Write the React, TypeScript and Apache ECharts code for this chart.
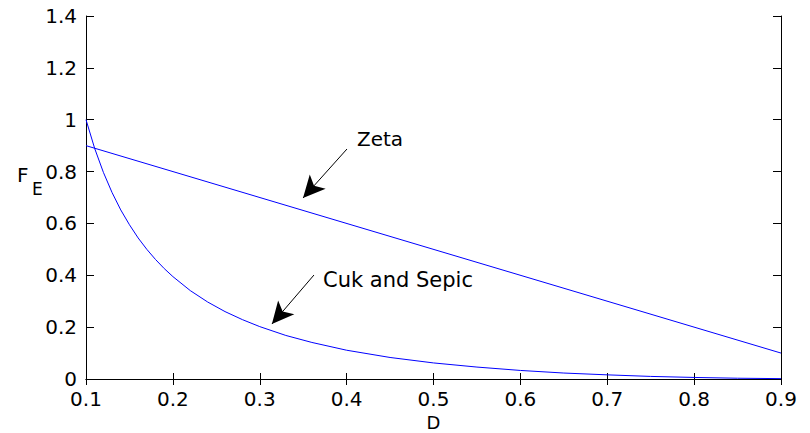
import React, { useEffect, useRef } from "react";
import * as echarts from "echarts";

// Duty cycle D samples and F_E values
const cukD = [0.10, 0.11, 0.12, 0.13, 0.14, 0.15, 0.16, 0.17, 0.18, 0.19, 0.20, 0.22, 0.24, 0.26, 0.28, 0.30, 0.33, 0.36, 0.40, 0.45, 0.50, 0.55, 0.60, 0.65, 0.70, 0.75, 0.80, 0.85, 0.90];
const cukF = [1.000, 0.889, 0.797, 0.719, 0.652, 0.595, 0.544, 0.500, 0.461, 0.426, 0.395, 0.341, 0.297, 0.260, 0.229, 0.202, 0.168, 0.141, 0.111, 0.083, 0.062, 0.046, 0.033, 0.023, 0.016, 0.010, 0.006, 0.003, 0.0014];
const zetaD = [0.1, 0.9];
const zetaF = [0.9, 0.1];

const xTicks = ["0.1", "0.2", "0.3", "0.4", "0.5", "0.6", "0.7", "0.8", "0.9"];
const yTicks = ["0", "0.2", "0.4", "0.6", "0.8", "1", "1.2", "1.4"];

// annotation arrows in data coordinates: [fromX, fromY, toX, toY]
const zetaArrow = [0.4004, 0.887, 0.3498, 0.698];
const cukArrow = [0.3624, 0.401, 0.314, 0.212];
const zetaLabel = "Zeta";
const cukLabel = "Cuk and Sepic";

const FONT = "DejaVu Sans";

export default function App() {
  const ref = useRef<HTMLDivElement>(null);
  useEffect(() => {
    document.body.style.margin = "0";
    const chart = echarts.init(ref.current!, null, { renderer: "svg" });
    const axisLine = { show: true, lineStyle: { color: "#000", width: 1 } };
    const arrowLine = (a: number[]) => ({
      silent: true,
      symbol: ["none", "arrow"],
      symbolSize: [16, 22],
      label: { show: false },
      lineStyle: { color: "#000", width: 1, type: "solid" },
      itemStyle: { color: "#000" },
      data: [[{ coord: [a[0], a[1]] }, { coord: [a[2], a[3]] }]],
    });
    chart.setOption({
      animation: false,
      backgroundColor: "#fff",
      grid: { left: 86, right: 29, top: 16, bottom: 54, containLabel: false, outerBoundsMode: "none" },
      xAxis: [
        {
          type: "value",
          min: 0.1,
          max: 0.9,
          interval: 0.1,
          name: "D",
          nameLocation: "middle",
          nameGap: 34,
          nameTextStyle: { fontFamily: FONT, fontSize: 18, color: "#000", lineHeight: 18 },
          axisLine,
          axisTick: { show: true, inside: true, length: 6, lineStyle: { color: "#000" } },
          splitLine: { show: false },
          axisLabel: {
            fontFamily: FONT,
            fontSize: 20,
            lineHeight: 20,
            color: "#000",
            margin: 10,
            formatter: (v: number) => xTicks[Math.round(v * 10) - 1] ?? "",
          },
        },
        {
          type: "value",
          min: 0.1,
          max: 0.9,
          interval: 0.1,
          position: "top",
          axisLine,
          axisTick: { show: true, inside: true, length: 6, lineStyle: { color: "#000" } },
          splitLine: { show: false },
          axisLabel: { show: false },
        },
      ],
      yAxis: [
        {
          type: "value",
          min: 0,
          max: 1.4,
          interval: 0.2,
          axisLine,
          axisTick: { show: true, inside: true, length: 8, lineStyle: { color: "#000" } },
          splitLine: { show: false },
          axisLabel: {
            fontFamily: FONT,
            fontSize: 20,
            lineHeight: 17,
            color: "#000",
            margin: 9,
            formatter: (v: number) => yTicks[Math.round(v * 5)] ?? "",
          },
        },
        {
          type: "value",
          min: 0,
          max: 1.4,
          interval: 0.2,
          position: "right",
          axisLine,
          axisTick: { show: true, inside: true, length: 8, lineStyle: { color: "#000" } },
          splitLine: { show: false },
          axisLabel: { show: false },
        },
      ],
      series: [
        {
          name: "Zeta",
          type: "line",
          data: zetaD.map((d, i) => [d, zetaF[i]]),
          showSymbol: false,
          lineStyle: { color: "#0000ff", width: 1 },
          markLine: arrowLine(zetaArrow),
        },
        {
          name: "Cuk and Sepic",
          type: "line",
          data: cukD.map((d, i) => [d, cukF[i]]),
          showSymbol: false,
          smooth: false,
          lineStyle: { color: "#0000ff", width: 1 },
          markLine: arrowLine(cukArrow),
        },
      ],
      graphic: [
        {
          type: "text",
          left: 17,
          top: 165,
          style: { text: "F", font: `20px "${FONT}"`, fill: "#000" },
        },
        {
          type: "text",
          left: 32,
          top: 180,
          style: { text: "E", font: `17px "${FONT}"`, fill: "#000" },
        },
        {
          type: "text",
          left: 357,
          top: 129,
          style: { text: zetaLabel, font: `20px "${FONT}"`, fill: "#000" },
        },
        {
          type: "text",
          left: 323,
          top: 269,
          style: { text: cukLabel, font: `21px "${FONT}"`, fill: "#000" },
        },
      ],
    });
    return () => chart.dispose();
  }, []);
  return (
    <div
      ref={ref}
      style={{ position: "fixed", left: 0, top: 0, width: 810, height: 433 }}
    />
  );
}
